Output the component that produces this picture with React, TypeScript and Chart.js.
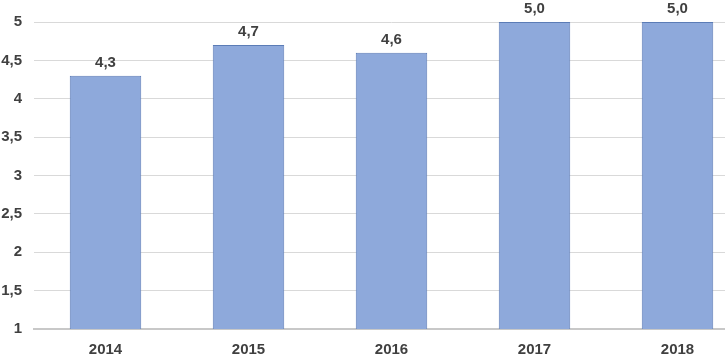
import React, { useEffect, useRef } from "react";
import { Chart, registerables } from "chart.js";

Chart.register(...registerables);

const categories = ["2014", "2015", "2016", "2017", "2018"];
const values = [4.3, 4.7, 4.6, 5.0, 5.0];
const yMin = 1;
const yMax = 5;
const yStep = 0.5;

const FONT = "'Liberation Sans', Arial, sans-serif";

const fmt = (v: number, digits?: number) =>
  (digits !== undefined ? v.toFixed(digits) : String(v)).replace(".", ",");

const labelPlugin = {
  id: "valueLabels",
  afterDatasetsDraw(chart: any) {
    const ctx = chart.ctx;
    const meta = chart.getDatasetMeta(0);
    ctx.save();
    ctx.font = `bold 15px ${FONT}`;
    ctx.fillStyle = "#404040";
    ctx.textAlign = "center";
    ctx.textBaseline = "alphabetic";
    meta.data.forEach((bar: any, i: number) => {
      ctx.fillText(fmt(values[i], 1), bar.x, bar.y - 9);
    });
    ctx.restore();
  },
};

export default function App() {
  const ref = useRef<HTMLCanvasElement>(null);
  useEffect(() => {
    if (!ref.current) return;
    const chart = new Chart(ref.current, {
      type: "bar",
      data: {
        labels: categories,
        datasets: [
          {
            data: values,
            backgroundColor: "#8EA9DB",
            borderColor: "#5B7CB6",
            borderWidth: 1,
            borderSkipped: false,
            barPercentage: 1,
            categoryPercentage: 0.5,
          },
        ],
      },
      options: {
        responsive: false,
        animation: false,
        layout: { padding: { top: 22, right: 1, left: 0, bottom: 0 } },
        plugins: { legend: { display: false }, tooltip: { enabled: false } },
        scales: {
          x: {
            grid: { display: false, drawTicks: false },
            border: { display: true, color: "#C8C8C8", width: 2 },
            ticks: {
              color: "#404040",
              font: { family: FONT, size: 15, weight: "bold" },
              padding: 12,
            },
            afterFit: (s: any) => {
              s.height = 27;
            },
          },
          y: {
            min: yMin,
            max: yMax,
            grid: { color: "#D9D9D9", drawTicks: false, lineWidth: 1 },
            border: { display: false },
            ticks: {
              stepSize: yStep,
              color: "#404040",
              padding: 12,
              font: { family: FONT, size: 15, weight: "bold" },
              callback: (v: any) => fmt(Number(v)),
            },
            afterFit: (s: any) => {
              s.width = 34;
            },
          },
        },
      },
      plugins: [labelPlugin],
    });
    return () => chart.destroy();
  }, []);
  return (
    <div
      style={{
        position: "fixed",
        left: 0,
        top: 0,
        width: 725,
        height: 356,
        overflow: "hidden",
        background: "#fff",
      }}
    >
      <canvas ref={ref} width={750} height={356} style={{ width: 750, height: 356, display: "block" }} />
    </div>
  );
}
